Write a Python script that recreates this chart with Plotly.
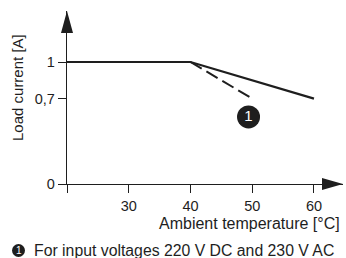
import plotly.graph_objects as go

# Data
temp_solid = [20, 40, 60]
current_solid = [1, 1, 0.7]
temp_dashed = [40, 50]
current_dashed = [1, 0.7]
note_x = [49.4]
note_y = [0.55]
note_label = ["1"]
x_tickvals = [20, 30, 40, 50, 60]
x_ticktext = ["", "30", "40", "50", "60"]
y_tickvals = [0, 0.7, 1]
y_ticktext = ["0", "0,7", "1"]

FONT = "Liberation Sans, Arial, sans-serif"
INK = "#1e1e1e"

L, R, T, B = 67, 3, 11, 74
W, H = 346, 258
PW, PH = W - L - R, H - T - B


def px(x):
    return (x - L) / PW


def py(y):
    return (H - B - y) / PH


fig = go.Figure()
fig.add_trace(go.Scatter(x=temp_solid, y=current_solid, mode="lines",
                         line=dict(color=INK, width=2.2), hoverinfo="skip"))
fig.add_trace(go.Scatter(x=temp_dashed, y=current_dashed, mode="lines",
                         line=dict(color=INK, width=2, dash="13px,5.5px"), hoverinfo="skip"))
fig.add_trace(go.Scatter(x=note_x, y=note_y, mode="markers+text", text=note_label,
                         textposition="middle center",
                         textfont=dict(color="white", size=15, family=FONT),
                         marker=dict(color=INK, size=23), hoverinfo="skip"))

X_MAX = 64.7
Y_MAX = 1.418

fig.update_layout(
    width=W, height=H,
    margin=dict(l=L, r=R, t=T, b=B, autoexpand=False),
    paper_bgcolor="white", plot_bgcolor="white",
    showlegend=False,
    font=dict(family=FONT, size=14, color=INK),
    xaxis=dict(range=[20, X_MAX], tickvals=x_tickvals, ticktext=x_ticktext,
               showgrid=False, zeroline=False, showline=True, linecolor=INK, linewidth=1.3,
               ticks="outside", ticklen=8, tickcolor=INK, tickwidth=1.3,
               tickfont=dict(size=14.5), fixedrange=True, automargin=False),
    yaxis=dict(range=[0, Y_MAX], tickvals=y_tickvals, ticktext=y_ticktext,
               showgrid=False, zeroline=False, showline=True, linecolor=INK, linewidth=1.3,
               ticks="outside", ticklen=8, tickcolor=INK, tickwidth=1.3,
               tickfont=dict(size=14.5), fixedrange=True, automargin=False),
    shapes=[
        # y axis arrowhead
        dict(type="path", xref="paper", yref="paper", xsizemode="pixel", ysizemode="pixel",
             xanchor=0, yanchor=1, path="M0,0 L-6,-22 L6,-22 Z",
             fillcolor=INK, line=dict(width=0)),
        # x axis arrowhead
        dict(type="path", xref="paper", yref="paper", xsizemode="pixel", ysizemode="pixel",
             xanchor=1, yanchor=0, path="M0,0 L-21,6 L-21,-6 Z",
             fillcolor=INK, line=dict(width=0)),
        # footnote circle
        dict(type="circle", xref="paper", yref="paper", xsizemode="pixel", ysizemode="pixel",
             xanchor=px(18.5), yanchor=py(250.5),
             x0=-6.5, x1=6.5, y0=-6.5, y1=6.5, fillcolor=INK, line=dict(width=0)),
    ],
    annotations=[
        dict(text="Ambient temperature [°C]", xref="paper", yref="paper",
             x=px(342), y=py(224), xanchor="right", yanchor="middle",
             showarrow=False, font=dict(size=16)),
        dict(text="Load current [A]", xref="paper", yref="paper", textangle=-90,
             x=px(17), y=py(88), xanchor="center", yanchor="middle",
             showarrow=False, font=dict(size=15)),
        dict(text="1", xref="paper", yref="paper",
             x=px(18.5), y=py(250.5), xanchor="center", yanchor="middle",
             showarrow=False, font=dict(size=10, color="white")),
        dict(text="For input voltages 220 V DC and 230 V AC", xref="paper", yref="paper",
             x=px(32), y=py(250.5), xanchor="left", yanchor="middle",
             showarrow=False, font=dict(size=15.8)),
    ],
)

fig.write_html("out.html", config={"displayModeBar": False},
               post_script="document.body.style.margin='0';document.body.style.overflow='hidden';")
